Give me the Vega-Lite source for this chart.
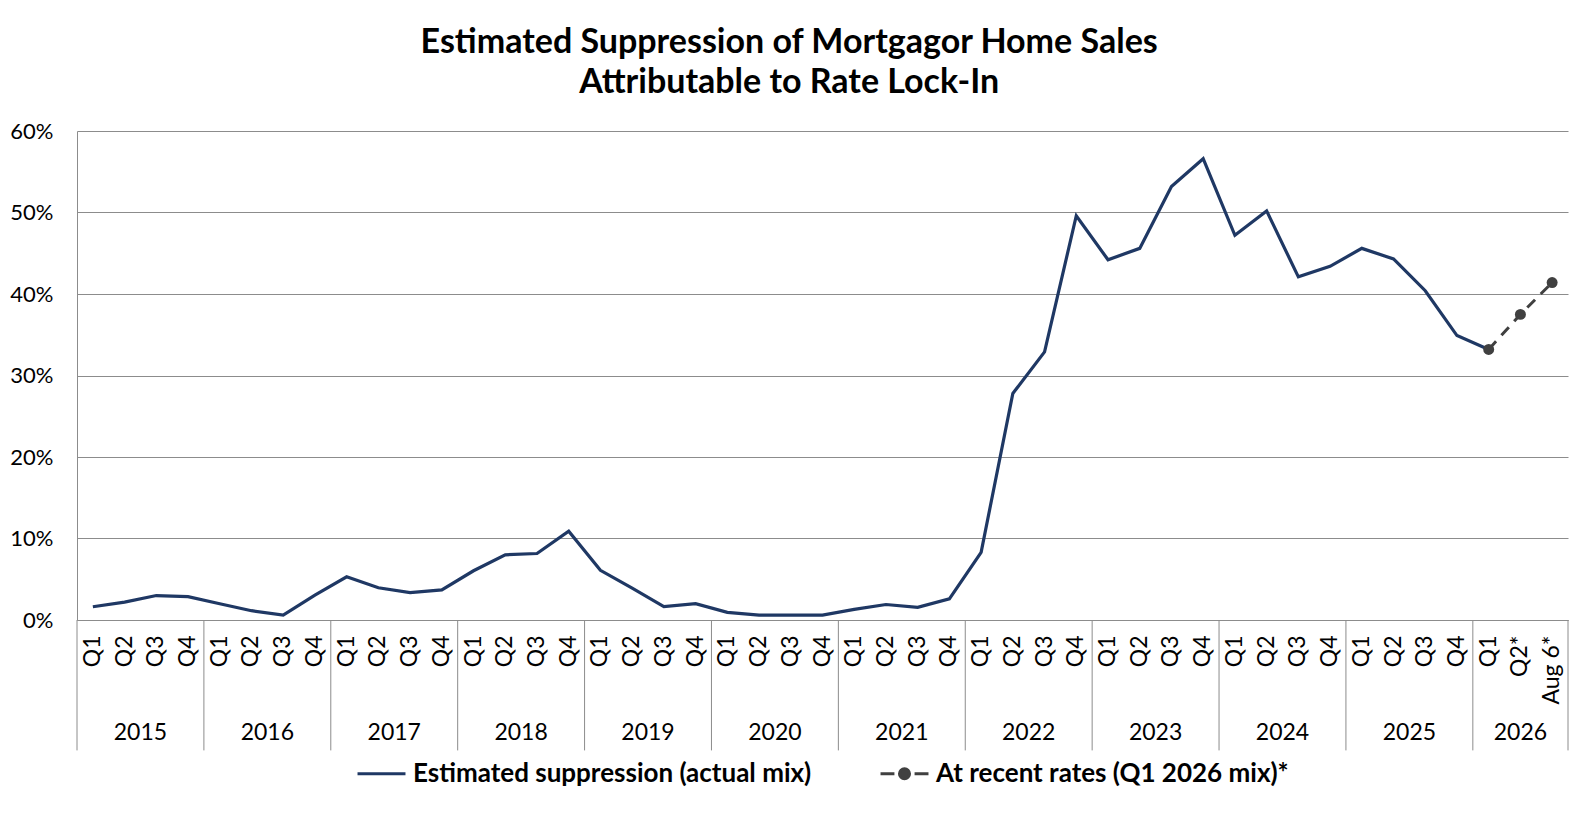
{
  "$schema": "https://vega.github.io/schema/vega-lite/v6.json",
  "width": 1491,
  "height": 489,
  "autosize": {"type": "none"},
  "padding": {"left": 77, "top": 131, "right": 24, "bottom": 200},
  "background": "white",
  "title": {
    "text": ["Estimated Suppression of Mortgagor Home Sales", "Attributable to Rate Lock-In"],
    "font": "Lato",
    "fontSize": 34,
    "fontWeight": "bold",
    "color": "black",
    "lineHeight": 40,
    "anchor": "middle",
    "frame": "bounds",
    "offset": 20
  },
  "config": {
    "font": "Lato",
    "view": {"stroke": null},
    "axis": {"labelFont": "Lato", "labelColor": "black", "domainColor": "#8c8c8c", "gridColor": "#8c8c8c"},
    "legend": {"layout": {"bottom": {"anchor": "middle"}}}
  },
  "data": {
    "values": [
      {"cat": "2015|Q1", "q": "Q1", "year": "2015", "series": "Estimated suppression (actual mix)", "v": 0.0163},
      {"cat": "2015|Q2", "q": "Q2", "year": "2015", "series": "Estimated suppression (actual mix)", "v": 0.022},
      {"cat": "2015|Q3", "q": "Q3", "year": "2015", "series": "Estimated suppression (actual mix)", "v": 0.030},
      {"cat": "2015|Q4", "q": "Q4", "year": "2015", "series": "Estimated suppression (actual mix)", "v": 0.0286},
      {"cat": "2016|Q1", "q": "Q1", "year": "2016", "series": "Estimated suppression (actual mix)", "v": 0.020},
      {"cat": "2016|Q2", "q": "Q2", "year": "2016", "series": "Estimated suppression (actual mix)", "v": 0.0114},
      {"cat": "2016|Q3", "q": "Q3", "year": "2016", "series": "Estimated suppression (actual mix)", "v": 0.006},
      {"cat": "2016|Q4", "q": "Q4", "year": "2016", "series": "Estimated suppression (actual mix)", "v": 0.0306},
      {"cat": "2017|Q1", "q": "Q1", "year": "2017", "series": "Estimated suppression (actual mix)", "v": 0.053},
      {"cat": "2017|Q2", "q": "Q2", "year": "2017", "series": "Estimated suppression (actual mix)", "v": 0.0396},
      {"cat": "2017|Q3", "q": "Q3", "year": "2017", "series": "Estimated suppression (actual mix)", "v": 0.0335},
      {"cat": "2017|Q4", "q": "Q4", "year": "2017", "series": "Estimated suppression (actual mix)", "v": 0.037},
      {"cat": "2018|Q1", "q": "Q1", "year": "2018", "series": "Estimated suppression (actual mix)", "v": 0.0604},
      {"cat": "2018|Q2", "q": "Q2", "year": "2018", "series": "Estimated suppression (actual mix)", "v": 0.080},
      {"cat": "2018|Q3", "q": "Q3", "year": "2018", "series": "Estimated suppression (actual mix)", "v": 0.0816},
      {"cat": "2018|Q4", "q": "Q4", "year": "2018", "series": "Estimated suppression (actual mix)", "v": 0.109},
      {"cat": "2019|Q1", "q": "Q1", "year": "2019", "series": "Estimated suppression (actual mix)", "v": 0.061},
      {"cat": "2019|Q2", "q": "Q2", "year": "2019", "series": "Estimated suppression (actual mix)", "v": 0.039},
      {"cat": "2019|Q3", "q": "Q3", "year": "2019", "series": "Estimated suppression (actual mix)", "v": 0.0163},
      {"cat": "2019|Q4", "q": "Q4", "year": "2019", "series": "Estimated suppression (actual mix)", "v": 0.020},
      {"cat": "2020|Q1", "q": "Q1", "year": "2020", "series": "Estimated suppression (actual mix)", "v": 0.0094},
      {"cat": "2020|Q2", "q": "Q2", "year": "2020", "series": "Estimated suppression (actual mix)", "v": 0.006},
      {"cat": "2020|Q3", "q": "Q3", "year": "2020", "series": "Estimated suppression (actual mix)", "v": 0.006},
      {"cat": "2020|Q4", "q": "Q4", "year": "2020", "series": "Estimated suppression (actual mix)", "v": 0.006},
      {"cat": "2021|Q1", "q": "Q1", "year": "2021", "series": "Estimated suppression (actual mix)", "v": 0.013},
      {"cat": "2021|Q2", "q": "Q2", "year": "2021", "series": "Estimated suppression (actual mix)", "v": 0.019},
      {"cat": "2021|Q3", "q": "Q3", "year": "2021", "series": "Estimated suppression (actual mix)", "v": 0.0155},
      {"cat": "2021|Q4", "q": "Q4", "year": "2021", "series": "Estimated suppression (actual mix)", "v": 0.026},
      {"cat": "2022|Q1", "q": "Q1", "year": "2022", "series": "Estimated suppression (actual mix)", "v": 0.083},
      {"cat": "2022|Q2", "q": "Q2", "year": "2022", "series": "Estimated suppression (actual mix)", "v": 0.278},
      {"cat": "2022|Q3", "q": "Q3", "year": "2022", "series": "Estimated suppression (actual mix)", "v": 0.329},
      {"cat": "2022|Q4", "q": "Q4", "year": "2022", "series": "Estimated suppression (actual mix)", "v": 0.496},
      {"cat": "2023|Q1", "q": "Q1", "year": "2023", "series": "Estimated suppression (actual mix)", "v": 0.442},
      {"cat": "2023|Q2", "q": "Q2", "year": "2023", "series": "Estimated suppression (actual mix)", "v": 0.456},
      {"cat": "2023|Q3", "q": "Q3", "year": "2023", "series": "Estimated suppression (actual mix)", "v": 0.532},
      {"cat": "2023|Q4", "q": "Q4", "year": "2023", "series": "Estimated suppression (actual mix)", "v": 0.566},
      {"cat": "2024|Q1", "q": "Q1", "year": "2024", "series": "Estimated suppression (actual mix)", "v": 0.472},
      {"cat": "2024|Q2", "q": "Q2", "year": "2024", "series": "Estimated suppression (actual mix)", "v": 0.502},
      {"cat": "2024|Q3", "q": "Q3", "year": "2024", "series": "Estimated suppression (actual mix)", "v": 0.421},
      {"cat": "2024|Q4", "q": "Q4", "year": "2024", "series": "Estimated suppression (actual mix)", "v": 0.434},
      {"cat": "2025|Q1", "q": "Q1", "year": "2025", "series": "Estimated suppression (actual mix)", "v": 0.456},
      {"cat": "2025|Q2", "q": "Q2", "year": "2025", "series": "Estimated suppression (actual mix)", "v": 0.443},
      {"cat": "2025|Q3", "q": "Q3", "year": "2025", "series": "Estimated suppression (actual mix)", "v": 0.404},
      {"cat": "2025|Q4", "q": "Q4", "year": "2025", "series": "Estimated suppression (actual mix)", "v": 0.349},
      {"cat": "2026|Q1", "q": "Q1", "year": "2026", "series": "Estimated suppression (actual mix)", "v": 0.332},
      {"cat": "2026|Q1", "q": "Q1", "year": "2026", "series": "At recent rates (Q1 2026 mix)*", "v": 0.332},
      {"cat": "2026|Q2*", "q": "Q2*", "year": "2026", "series": "At recent rates (Q1 2026 mix)*", "v": 0.375},
      {"cat": "2026|Aug 6*", "q": "Aug 6*", "year": "2026", "series": "At recent rates (Q1 2026 mix)*", "v": 0.414}
    ]
  },
  "encoding": {
    "x": {
      "field": "cat",
      "type": "nominal",
      "title": null,
      "scale": {
        "domain": [
          "2015|Q1", "2015|Q2", "2015|Q3", "2015|Q4",
          "2016|Q1", "2016|Q2", "2016|Q3", "2016|Q4",
          "2017|Q1", "2017|Q2", "2017|Q3", "2017|Q4",
          "2018|Q1", "2018|Q2", "2018|Q3", "2018|Q4",
          "2019|Q1", "2019|Q2", "2019|Q3", "2019|Q4",
          "2020|Q1", "2020|Q2", "2020|Q3", "2020|Q4",
          "2021|Q1", "2021|Q2", "2021|Q3", "2021|Q4",
          "2022|Q1", "2022|Q2", "2022|Q3", "2022|Q4",
          "2023|Q1", "2023|Q2", "2023|Q3", "2023|Q4",
          "2024|Q1", "2024|Q2", "2024|Q3", "2024|Q4",
          "2025|Q1", "2025|Q2", "2025|Q3", "2025|Q4",
          "2026|Q1", "2026|Q2*", "2026|Aug 6*"
        ],
        "type": "band",
        "paddingInner": 0,
        "paddingOuter": 0
      },
      "axis": {
        "labelExpr": "split(datum.value, '|')[1]",
        "labelAngle": 270,
        "labelAlign": "right",
        "labelBaseline": "middle",
        "labelFontSize": 23,
        "labelPadding": 15,
        "ticks": false,
        "grid": false,
        "domainWidth": 1
      }
    },
    "y": {
      "field": "v",
      "type": "quantitative",
      "title": null,
      "scale": {"domain": [0, 0.6], "nice": false},
      "axis": {
        "values": [0, 0.1, 0.2, 0.3, 0.4, 0.5, 0.6],
        "format": ".0%",
        "labelFontSize": 22,
        "labelPadding": 24,
        "ticks": false,
        "gridWidth": 1,
        "domainWidth": 1
      }
    },
    "color": {
      "field": "series",
      "type": "nominal",
      "scale": {
        "domain": ["Estimated suppression (actual mix)", "At recent rates (Q1 2026 mix)*"],
        "range": ["#1f3864", "#404040"]
      },
      "legend": {
        "title": null,
        "orient": "bottom",
        "direction": "horizontal",
        "labelFont": "Lato",
        "labelFontSize": 26,
        "labelFontWeight": "bold",
        "labelColor": "black",
        "symbolSize": 2300,
        "symbolOpacity": 1,
        "symbolStrokeWidth": 3,
        "symbolType": "M-1,0H1",
        "columnPadding": 62,
        "labelLimit": 700,
        "labelOffset": 6,
        "offset": 43,
        "encode": {
          "symbols": {
            "update": {
              "shape": {"signal": "datum.value === 'At recent rates (Q1 2026 mix)*' ? 'M-1,0H-0.42M0.42,0H1M-0.21,0A0.21,0.21 0 1,1 0.21,0A0.21,0.21 0 1,1 -0.21,0Z' : 'M-1,0H1'"},
              "fill": {"scale": "color", "field": "value"},
              "stroke": {"scale": "color", "field": "value"},
              "strokeWidth": {"value": 3}
            }
          }
        }
      }
    }
  },
  "layer": [
    {
      "transform": [{"filter": "datum.q === 'Q1' && datum.series === 'Estimated suppression (actual mix)'"}],
      "mark": {"type": "rule", "strokeWidth": 1},
      "encoding": {
        "x": {"field": "cat", "type": "nominal", "bandPosition": 0},
        "y": {"datum": 0},
        "y2": {"datum": -0.16},
        "color": {"value": "#8c8c8c"}
      }
    },
    {
      "transform": [{"filter": "datum.cat === '2026|Aug 6*'"}],
      "mark": {"type": "rule", "strokeWidth": 1},
      "encoding": {
        "x": {"field": "cat", "type": "nominal", "bandPosition": 1},
        "y": {"datum": 0},
        "y2": {"datum": -0.16},
        "color": {"value": "#8c8c8c"}
      }
    },
    {
      "transform": [{"filter": "datum.q === 'Q3' && datum.year !== '2026'"}],
      "mark": {"type": "text", "font": "Lato", "fontSize": 23, "baseline": "middle", "align": "center"},
      "encoding": {
        "x": {"field": "cat", "type": "nominal", "bandPosition": 0},
        "y": {"datum": -0.139},
        "text": {"field": "year"},
        "color": {"value": "black"}
      }
    },
    {
      "transform": [{"filter": "datum.q === 'Q2*'"}],
      "mark": {"type": "text", "font": "Lato", "fontSize": 23, "baseline": "middle", "align": "center"},
      "encoding": {
        "x": {"field": "cat", "type": "nominal", "bandPosition": 0.5},
        "y": {"datum": -0.139},
        "text": {"field": "year"},
        "color": {"value": "black"}
      }
    },
    {
      "transform": [{"filter": "datum.series === 'Estimated suppression (actual mix)'"}],
      "mark": {"type": "line", "strokeWidth": 3.2}
    },
    {
      "transform": [{"filter": "datum.series === 'At recent rates (Q1 2026 mix)*'"}],
      "mark": {"type": "line", "strokeWidth": 3, "strokeDash": [11, 8]}
    },
    {
      "transform": [{"filter": "datum.series === 'At recent rates (Q1 2026 mix)*'"}],
      "mark": {"type": "point", "filled": true, "shape": "circle", "size": 120, "opacity": 1}
    }
  ]
}
